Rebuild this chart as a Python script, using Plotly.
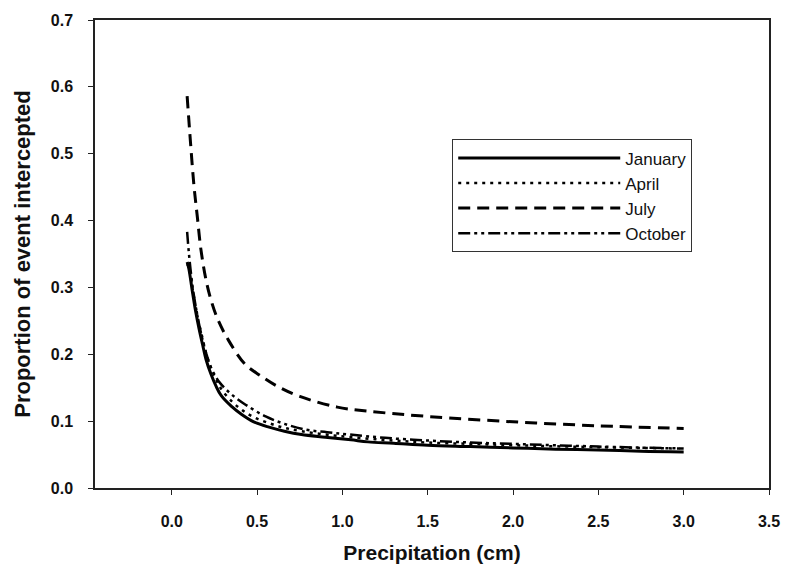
import plotly.graph_objects as go

jan_x = [0.09, 0.10, 0.12, 0.14, 0.16, 0.18, 0.20, 0.23, 0.26, 0.29, 0.35, 0.41, 0.48, 0.57, 0.66, 0.76, 0.90, 1.05, 1.15, 1.30, 1.50, 1.75, 2.00, 2.25, 2.50, 2.75, 3.00]
jan_y = [0.338, 0.328, 0.295, 0.264, 0.238, 0.215, 0.193, 0.170, 0.152, 0.138, 0.122, 0.110, 0.099, 0.091, 0.085, 0.080, 0.076, 0.072, 0.069, 0.067, 0.064, 0.062, 0.060, 0.058, 0.057, 0.055, 0.054]

apr_x = [0.09, 0.10, 0.12, 0.14, 0.16, 0.18, 0.20, 0.23, 0.26, 0.29, 0.35, 0.41, 0.48, 0.57, 0.66, 0.76, 0.90, 1.05, 1.30, 1.50, 1.75, 2.00, 2.50, 3.00]
apr_y = [0.335, 0.330, 0.300, 0.272, 0.246, 0.224, 0.203, 0.180, 0.162, 0.148, 0.130, 0.117, 0.106, 0.097, 0.090, 0.085, 0.080, 0.076, 0.071, 0.068, 0.066, 0.064, 0.061, 0.059]

jul_x = [0.09, 0.11, 0.13, 0.15, 0.17, 0.20, 0.23, 0.27, 0.33, 0.43, 0.52, 0.62, 0.75, 0.97, 1.15, 1.50, 2.00, 2.50, 3.00]
jul_y = [0.586, 0.516, 0.452, 0.405, 0.358, 0.312, 0.281, 0.252, 0.222, 0.185, 0.168, 0.152, 0.137, 0.121, 0.115, 0.107, 0.099, 0.093, 0.089]

oct_x = [0.09, 0.10, 0.12, 0.14, 0.16, 0.18, 0.20, 0.23, 0.28, 0.35, 0.43, 0.55, 0.66, 0.79, 0.91, 1.04, 1.25, 1.50, 1.75, 2.00, 2.50, 3.00]
oct_y = [0.383, 0.352, 0.305, 0.272, 0.245, 0.222, 0.203, 0.180, 0.158, 0.140, 0.125, 0.107, 0.096, 0.087, 0.0835, 0.080, 0.075, 0.071, 0.068, 0.066, 0.062, 0.059]

series_names = ["January", "April", "July", "October"]

x_ticks = [0.0, 0.5, 1.0, 1.5, 2.0, 2.5, 3.0, 3.5]
y_ticks = [0.0, 0.1, 0.2, 0.3, 0.4, 0.5, 0.6, 0.7]

FONT = "Liberation Sans, Arial, sans-serif"

fig = go.Figure()
fig.add_trace(go.Scatter(x=jan_x, y=jan_y, mode="lines", name=series_names[0],
                         line=dict(color="black", width=3, dash="solid", shape="spline")))
fig.add_trace(go.Scatter(x=apr_x, y=apr_y, mode="lines", name=series_names[1],
                         line=dict(color="black", width=2.5, dash="3px,5px", shape="spline")))
fig.add_trace(go.Scatter(x=jul_x, y=jul_y, mode="lines", name=series_names[2],
                         line=dict(color="black", width=3, dash="12px,7px", shape="spline")))
fig.add_trace(go.Scatter(x=oct_x, y=oct_y, mode="lines", name=series_names[3],
                         line=dict(color="black", width=2.5, dash="12px,4px,3px,4px,3px,4px", shape="spline")))

fig.update_layout(
    width=792, height=574,
    margin=dict(l=95, r=17, t=16, b=86),
    paper_bgcolor="white", plot_bgcolor="white",
    font=dict(family=FONT, color="#111111"),
    showlegend=True,
    legend=dict(
        x=0.53, y=0.745, xanchor="left", yanchor="top",
        bordercolor="#333333", borderwidth=1, bgcolor="white",
        font=dict(family=FONT, size=17, color="#111111"),
        itemwidth=162,
        tracegroupgap=0,
    ),
    xaxis=dict(
        range=[-0.45, 3.5], tickvals=x_ticks, ticktext=[f"<b>{v:.1f}</b>" for v in x_ticks],
        showgrid=False, zeroline=False,
        showline=True, linecolor="#222222", linewidth=1.5, mirror=True,
        ticks="outside", ticklen=5, tickcolor="#222222",
        ticklabelstandoff=13,
        tickfont=dict(family=FONT, size=16, color="#111111"),
        title=dict(text="<b>Precipitation (cm)</b>", font=dict(family=FONT, size=21, color="#111111"), standoff=16),
    ),
    yaxis=dict(
        range=[0, 0.7], tickvals=y_ticks, ticktext=[f"<b>{v:.1f}</b>" for v in y_ticks],
        showgrid=False, zeroline=False,
        showline=True, linecolor="#222222", linewidth=1.5, mirror=True,
        ticks="outside", ticklen=5, tickcolor="#222222",
        ticklabelstandoff=12,
        tickfont=dict(family=FONT, size=16, color="#111111"),
        title=dict(text="<b>Proportion of event intercepted</b>", font=dict(family=FONT, size=22, color="#111111"), standoff=14),
    ),
)

fig.write_html("out.html")
